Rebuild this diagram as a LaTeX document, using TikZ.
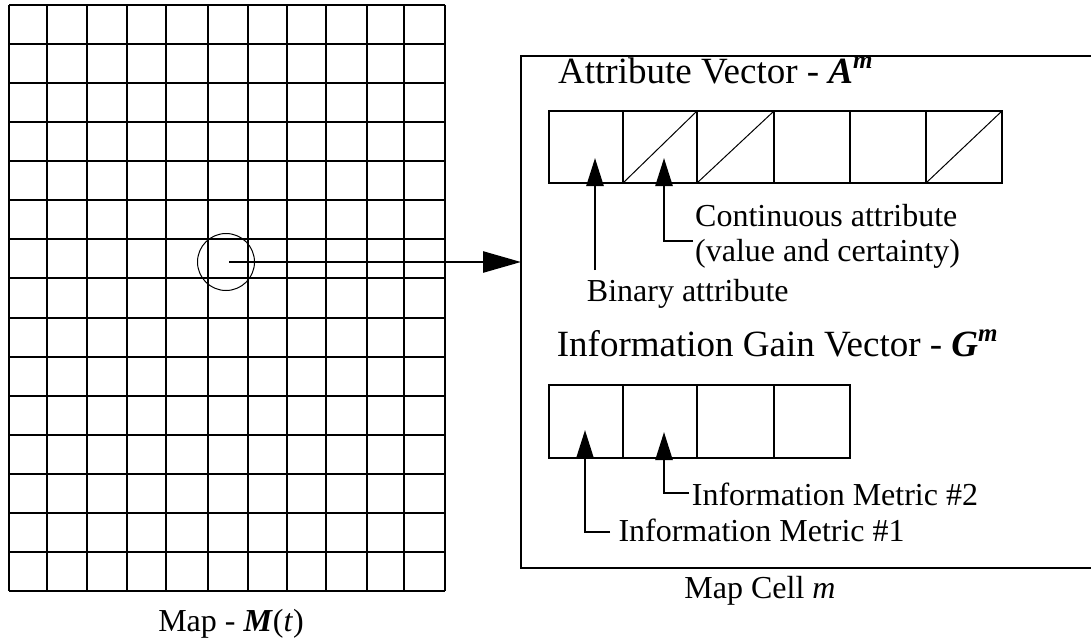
\documentclass[tikz,border=0pt]{standalone}
\usepackage{fontspec}
\setmainfont{Liberation Serif}
\usetikzlibrary{arrows.meta}
\begin{document}
\begin{tikzpicture}[x=1pt,y=-1pt,
  gridline/.style={line width=2.5pt},
  boxline/.style={line width=2.5pt},
  thinline/.style={line width=1pt},
  ptr/.style={line width=2.4pt,-{Triangle[length=28pt,width=17pt]}},
  bigptr/.style={line width=2.6pt,-{Triangle[length=38pt,width=21pt]}},
  title/.style={inner sep=0pt,anchor=base west,font=\fontsize{37}{42}\selectfont},
  lbl/.style={inner sep=0pt,anchor=base west,font=\fontsize{32}{37}\selectfont},
  caption/.style={inner sep=0pt,anchor=base,font=\fontsize{32}{37}\selectfont}]
\useasboundingbox (0,0) rectangle (1091,642);
% map grid
\foreach \x in {9,47,87,127,166,208,248,287,326,367,404,445}
  \draw[gridline] (\x,5) -- (\x,591);
\foreach \y in {5,44,83,122,161,200,239,278,318,357,396,435,474,513,552,591}
  \draw[gridline] (9,\y) -- (445,\y);
% selected cell
\node[draw,thinline,circle,minimum size=57pt,inner sep=0pt] (sel) at (226,262) {};
\coordinate (selc) at (229,262);
% map cell box
\coordinate (boxin) at (521,262);
\draw[boxline] (1093,56) -- (521,56) -- (521,568) -- (1093,568);
\draw[bigptr] (selc) -- (boxin);
% attribute vector
\draw[boxline] (549,111) rectangle (1002,183);
\foreach \x in {623,697,774,850,926}
  \draw[boxline] (\x,111) -- (\x,183);
\draw[thinline] (623,183) -- (697,111);
\draw[thinline] (697,183) -- (774,111);
\draw[thinline] (926,183) -- (1002,111);
% information gain vector
\draw[boxline] (549,385) rectangle (850,458);
\foreach \x in {623,697,774}
  \draw[boxline] (\x,385) -- (\x,458);
% texts
\node[title] (attr) at (558,83.3) {Attribute Vector - \textbf{\textit{A}}\raisebox{15pt}{\fontsize{25}{29}\selectfont\textbf{\textit{m}}}};
\node[lbl] (cont1) at (695,226.7) {Continuous attribute};
\node[lbl] (cont2) at (695,261.7) {(value and certainty)};
\node[lbl] (bin) at (586.7,301.7) {Binary attribute};
\node[title] (gain) at (556.7,356.7) {Information Gain Vector - \textbf{\textit{G}}\raisebox{15pt}{\fontsize{25}{29}\selectfont\textbf{\textit{m}}}};
\node[lbl] (im2) at (691.7,505) {Information Metric \#2};
\node[lbl] (im1) at (618.3,541.7) {Information Metric \#1};
\node[caption] (cellcap) at (760,598) {Map Cell \textit{m}};
\node[caption] (mapcap) at (231,631.7) {Map - \textbf{\textit{M}}(\textit{t})};
% pointers
\coordinate (a1tip) at (595,158);
\coordinate (a1end) at (595,270);
\coordinate (a2tip) at (664,158);
\coordinate (a2end) at (693,241);
\coordinate (g1tip) at (585,430);
\coordinate (g1end) at (610,532);
\coordinate (g2tip) at (664,432);
\coordinate (g2end) at (689,493);
\draw[ptr] (a1end) -- (a1tip);
\draw[ptr] (a2end) -| (a2tip);
\draw[ptr] (g1end) -| (g1tip);
\draw[ptr] (g2end) -| (g2tip);
\end{tikzpicture}
\end{document}
